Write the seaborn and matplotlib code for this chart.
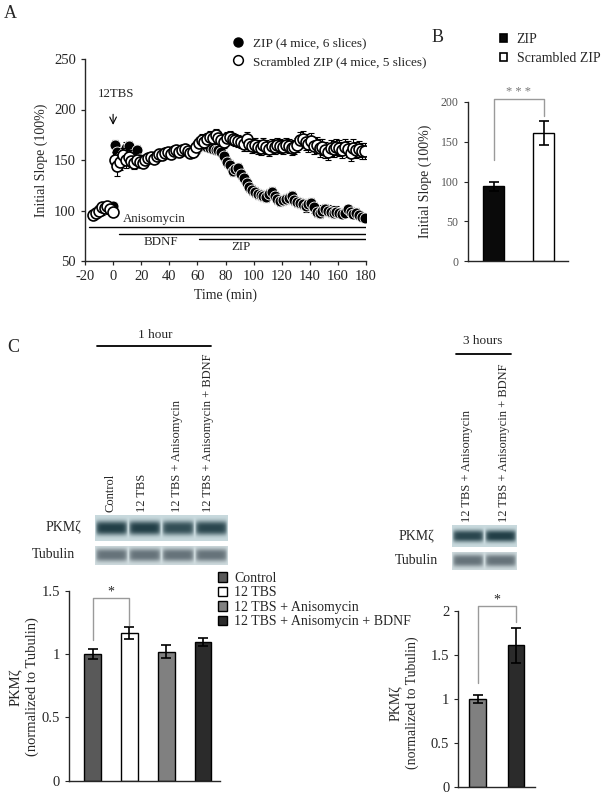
import numpy as np
import pandas as pd
import matplotlib
matplotlib.use("Agg")
import matplotlib.pyplot as plt
from matplotlib.lines import Line2D
from matplotlib.patches import Patch
import seaborn as sns

# ---------------- Panel A: time course ----------------
# recording sampled every 2 min: baseline at -14..0, after 12TBS at 1..179
BASE_T = list(range(-14, 1, 2))
POST_T = list(range(1, 180, 2))

ZIP_BASE = [97, 99, 101, 100, 102, 101, 103, 104]
SCR_BASE = [96, 98, 100, 103, 102, 104, 101, 99]
ZIP_BASE_ERR = [3, 3, 3, 3, 3, 3, 3, 3]
SCR_BASE_ERR = [3, 3, 3, 3, 3, 3, 3, 3]

ZIP_POST = [165, 158, 152, 156, 162, 164, 155, 152, 160, 151,
            149, 150, 152, 153, 152, 154, 155, 157, 158, 157,
            158, 157, 159, 158, 160, 161, 160, 158, 157, 160,
            163, 165, 164, 163, 162, 161, 160, 160, 158, 154,
            148, 145, 139, 141, 142, 136, 132, 127, 123, 120,
            118, 116, 115, 114, 113, 116, 118, 114, 111, 109,
            110, 111, 112, 114, 110, 108, 107, 106, 104, 106,
            107, 103, 99, 98, 100, 101, 100, 99, 98, 99,
            98, 97, 98, 101, 99, 97, 98, 96, 94, 93]
SCR_POST = [150, 144, 148, 155, 150, 153, 149, 147, 150, 148,
            147, 150, 152, 153, 151, 154, 156, 155, 157, 158,
            156, 159, 160, 158, 160, 161, 159, 157, 158, 163,
            167, 170, 168, 171, 173, 172, 175, 172, 170, 168,
            172, 173, 171, 170, 169, 168, 166, 171, 166, 164,
            165, 163, 162, 165, 163, 161, 164, 163, 165, 164,
            163, 165, 164, 162, 163, 165, 170, 171, 168, 166,
            169, 164, 165, 162, 163, 160, 158, 162, 161, 163,
            162, 160, 163, 161, 157, 162, 160, 161, 159, 159]
ZIP_POST_ERR = [5, 6, 6, 5, 6, 5, 5, 4, 5, 4,
                4, 4, 3, 3, 3, 3, 3, 3, 3, 3,
                3, 3, 3, 3, 3, 3, 3, 3, 3, 4,
                4, 4, 4, 4, 4, 4, 4, 4, 4, 5,
                5, 5, 5, 5, 5, 5, 5, 5, 5, 5,
                5, 5, 5, 5, 5, 5, 5, 5, 5, 5,
                5, 5, 5, 5, 5, 5, 5, 5, 5, 5,
                5, 5, 5, 5, 5, 5, 5, 5, 5, 5,
                4, 4, 4, 4, 4, 4, 4, 4, 4, 3]
SCR_POST_ERR = [8, 10, 8, 7, 8, 7, 6, 6, 5, 5,
                5, 5, 4, 4, 4, 5, 5, 5, 5, 5,
                5, 5, 5, 5, 5, 5, 5, 5, 5, 6,
                6, 6, 6, 6, 6, 6, 6, 6, 6, 6,
                6, 6, 6, 6, 6, 6, 7, 7, 7, 7,
                7, 7, 7, 7, 7, 7, 7, 7, 7, 7,
                7, 7, 7, 7, 7, 7, 8, 8, 8, 8,
                8, 8, 8, 9, 8, 8, 8, 8, 8, 8,
                8, 8, 8, 8, 8, 9, 8, 8, 8, 8]

DRUGS = ["Anisomycin", "BDNF", "ZIP"]
DRUG_START = [-17, 4, 61]
DRUG_LEVEL = [84, 77, 72]
A_LEGEND = ["ZIP (4 mice, 6 slices)", "Scrambled ZIP (4 mice, 5 slices)"]

# ---------------- Panel B ----------------
B_GROUPS = ["ZIP", "Scrambled ZIP"]
B_VALUES = [94, 161]
B_ERR = [6, 15]
B_COLORS = ["#0a0a0a", "white"]

# ---------------- Panel C ----------------
C1_GROUPS = ["Control", "12 TBS", "12 TBS + Anisomycin", "12 TBS + Anisomycin + BDNF"]
C1_VALUES = [1.00, 1.165, 1.02, 1.095]
C1_ERR = [0.04, 0.05, 0.055, 0.03]
C1_COLORS = ["#595959", "white", "#808080", "#2b2b2b"]
C1_YTICKS = [0, 0.5, 1, 1.5]
C1_YLABELS = ["0", "0.5", "1", "1.5"]
C1_PKM_BANDS = [1.0, 1.0, 0.9, 0.95]
C1_TUB_BANDS = [1.0, 1.0, 1.0, 1.0]

C2_GROUPS = ["12 TBS + Anisomycin", "12 TBS + Anisomycin + BDNF"]
C2_VALUES = [1.0, 1.61]
C2_ERR = [0.05, 0.2]
C2_COLORS = ["#808080", "#2b2b2b"]
C2_YTICKS = [0, 0.5, 1, 1.5, 2]
C2_YLABELS = ["0", "0.5", "1", "1.5", "2"]
C2_PKM_BANDS = [0.95, 1.0]
C2_TUB_BANDS = [1.0, 1.0]

W, H = 605, 797
SERIF = ["Liberation Serif", "DejaVu Serif"]
BRACKET = "#9a9a9a"

sns.set_style("ticks")
plt.rcParams["font.family"] = SERIF
plt.rcParams["axes.linewidth"] = 1.0
plt.rcParams["axes.unicode_minus"] = False

fig = plt.figure(figsize=(W / 100, H / 100), dpi=100)


def rect(x0, y0, x1, y1):
    return [x0 / W, 1 - y1 / H, (x1 - x0) / W, (y1 - y0) / H]


def ftext(x, y, s, **kw):
    fig.text(x / W, 1 - y / H, s, **kw)


def fline(x0, x1, y, **kw):
    fig.add_artist(Line2D([x0 / W, x1 / W], [1 - y / H, 1 - y / H], transform=fig.transFigure, **kw))


def draw_blot(box, bands, band_col, bg_col, sharp=0.55):
    ax = fig.add_axes(rect(*box))
    yy = np.linspace(-1, 1, 40)[:, None]
    xx = np.linspace(-1, 1, 60)[None, :]
    prof = np.exp(-(np.abs(yy) / sharp) ** 3) * np.clip(1 - np.abs(xx) ** 8, 0, 1)
    img = np.hstack([b * prof for b in bands])
    bg = np.array(matplotlib.colors.to_rgb(bg_col))
    fg = np.array(matplotlib.colors.to_rgb(band_col))
    ax.imshow(bg + img[..., None] * (fg - bg), aspect="auto", interpolation="bilinear")
    ax.axis("off")


def bars(ax, groups, values, errs, colors, width):
    df = pd.DataFrame({"group": groups, "value": values})
    sns.barplot(data=df, x="group", y="value", hue="group", palette=dict(zip(groups, colors)),
                width=width, edgecolor="black", linewidth=1.0, errorbar=None, legend=False, ax=ax)
    ax.errorbar(range(len(values)), values, yerr=errs, fmt="none", ecolor="black",
                elinewidth=1.2, capsize=3.5, capthick=1.2)
    ax.set_xlabel("")
    ax.set_ylabel("")
    ax.tick_params(axis="x", length=0, labelbottom=False)
    sns.despine(ax=ax)


# ===== Panel A =====
axA = fig.add_axes(rect(85, 59, 366, 261))
zip_t = BASE_T + POST_T
zip_v = ZIP_BASE + ZIP_POST
scr_v = SCR_BASE + SCR_POST
axA.errorbar(zip_t, zip_v, yerr=ZIP_BASE_ERR + ZIP_POST_ERR, fmt="none", ecolor="black",
             elinewidth=0.8, capsize=2.5, capthick=0.8, zorder=1)
sns.scatterplot(x=zip_t, y=zip_v, color="black", edgecolor="white", linewidth=0.6,
                s=62, marker="o", ax=axA, zorder=2)
axA.errorbar(zip_t, scr_v, yerr=SCR_BASE_ERR + SCR_POST_ERR, fmt="none", ecolor="black",
             elinewidth=0.8, capsize=2.5, capthick=0.8, zorder=3)
sns.scatterplot(x=zip_t, y=scr_v, color="white", edgecolor="black", linewidth=1.2,
                s=62, marker="o", ax=axA, zorder=4)
for start, lvl in zip(DRUG_START, DRUG_LEVEL):
    axA.plot([start, 180], [lvl, lvl], color="black", lw=1.0, zorder=1)
axA.text(29, 92, DRUGS[0], ha="center", va="center", fontsize=9.3)
axA.text(34, 69, DRUGS[1], ha="center", va="center", fontsize=9.3)
axA.text(91, 64, DRUGS[2], ha="center", va="center", fontsize=9.3)
axA.text(2, 215, "12TBS", ha="center", va="center", fontsize=9.3)
axA.annotate("", xy=(0, 182), xytext=(0, 198),
             arrowprops=dict(arrowstyle="->", lw=0.8, color="black", mutation_scale=12))
axA.set_xlim(-20, 180)
axA.set_ylim(50, 250)
axA.set_xticks(range(-20, 181, 20))
axA.set_yticks(range(50, 251, 50))
axA.tick_params(labelsize=10.5, length=3, width=0.9)
axA.set_xlabel("Time (min)", fontsize=10, labelpad=4)
axA.set_ylabel("Initial Slope (100%)", fontsize=10, labelpad=4)
sns.despine(ax=axA)
handlesA = [Line2D([], [], marker="o", ls="none", mfc="black", mec="black", ms=6.5),
            Line2D([], [], marker="o", ls="none", mfc="white", mec="black", mew=1.1, ms=7)]
fig.legend(handlesA, A_LEGEND, loc="upper left", bbox_to_anchor=(231 / W, 1 - 37 / H),
           frameon=False, fontsize=9.5, handlelength=1.0, handletextpad=0.7,
           labelspacing=0.5, borderpad=0, borderaxespad=0)

# ===== Panel B =====
axB = fig.add_axes(rect(467.7, 102, 568, 261))
bars(axB, B_GROUPS, B_VALUES, B_ERR, B_COLORS, 0.42)
axB.set_xlim(-0.516, 1.49)
axB.set_ylim(0, 200)
axB.set_yticks(range(0, 201, 50))
axB.tick_params(axis="y", labelsize=8.5, labelcolor="#555555", length=3)
axB.set_ylabel("Initial Slope (100%)", fontsize=10, labelpad=6)
axB.plot([0, 0, 1, 1], [127, 204, 204, 183], color=BRACKET, lw=1.0, clip_on=False)
axB.text(0.5, 212, "* * *", ha="center", va="center", fontsize=9, color="#777777")
handlesB = [Patch(facecolor=c, edgecolor="black", lw=1.2) for c in B_COLORS]
fig.legend(handlesB, B_GROUPS, loc="upper left", bbox_to_anchor=(500 / W, 1 - 33 / H),
           frameon=False, fontsize=10, handlelength=0.5, handleheight=0.5,
           handletextpad=0.7, labelspacing=0.45, borderpad=0, borderaxespad=0)

# ===== Panel C, 1 hour =====
ftext(155, 335, "1 hour", ha="center", va="center", fontsize=9.5)
fline(97, 211, 346, color="black", lw=1.3)
for x, lab in zip([110, 142, 177, 208], C1_GROUPS):
    ftext(x, 512, lab, rotation=90, ha="center", va="bottom", fontsize=9)
draw_blot((95, 515, 228, 541), C1_PKM_BANDS, "#223f47", "#c9dade")
draw_blot((95, 546, 228, 565), C1_TUB_BANDS, "#66737a", "#d0dcdf", sharp=0.65)
ftext(63, 528, "PKMζ", ha="center", va="center", fontsize=10)
ftext(53, 555, "Tubulin", ha="center", va="center", fontsize=10)

axC1 = fig.add_axes(rect(69, 590.7, 220, 780.7))
bars(axC1, C1_GROUPS, C1_VALUES, C1_ERR, C1_COLORS, 0.45)
axC1.set_xlim(-0.64, 3.46)
axC1.set_ylim(0, 1.5)
axC1.set_yticks(C1_YTICKS)
axC1.set_yticklabels(C1_YLABELS)
axC1.tick_params(axis="y", labelsize=10.5, length=3)
axC1.plot([0, 0, 1, 1], [1.11, 1.44, 1.44, 1.23], color=BRACKET, lw=1.0, clip_on=False)
axC1.text(0.5, 1.49, "*", ha="center", va="center", fontsize=10)
ftext(24, 687, "PKMζ\n(normalized to Tubulin)", rotation=90, ha="center", va="center",
      fontsize=10.5, linespacing=1.25)
handlesC = [Patch(facecolor=c, edgecolor="black", lw=1.0) for c in C1_COLORS]
fig.legend(handlesC, C1_GROUPS, loc="upper left", bbox_to_anchor=(218 / W, 1 - 572 / H),
           frameon=False, fontsize=10, handlelength=0.65, handleheight=0.65,
           handletextpad=0.5, labelspacing=0.1, borderpad=0, borderaxespad=0)

# ===== Panel C, 3 hours =====
ftext(483, 341, "3 hours", ha="center", va="center", fontsize=9.5)
fline(456, 511, 354, color="black", lw=1.3)
for x, lab in zip([467, 504], C2_GROUPS):
    ftext(x, 521.7, lab, rotation=90, ha="center", va="bottom", fontsize=9)
draw_blot((452, 525, 517, 547), C2_PKM_BANDS, "#223f47", "#c9dade")
draw_blot((452, 552, 517, 570), C2_TUB_BANDS, "#66737a", "#d0dcdf", sharp=0.65)
ftext(416, 537, "PKMζ", ha="center", va="center", fontsize=10)
ftext(416, 561, "Tubulin", ha="center", va="center", fontsize=10)

axC2 = fig.add_axes(rect(458.3, 611, 535, 787))
bars(axC2, C2_GROUPS, C2_VALUES, C2_ERR, C2_COLORS, 0.43)
axC2.set_xlim(-0.506, 1.496)
axC2.set_ylim(0, 2)
axC2.set_yticks(C2_YTICKS)
axC2.set_yticklabels(C2_YLABELS)
axC2.tick_params(axis="y", labelsize=10.5, length=3)
axC2.plot([0, 0, 1, 1], [1.18, 2.06, 2.06, 1.88], color=BRACKET, lw=1.0, clip_on=False)
axC2.text(0.5, 2.12, "*", ha="center", va="center", fontsize=10)
ftext(404, 703, "PKMζ\n(normalized to Tubulin)", rotation=90, ha="center", va="center",
      fontsize=10, linespacing=1.25)

# panel letters
ftext(10, 14, "A", ha="center", va="center", fontsize=13)
ftext(438, 37, "B", ha="center", va="center", fontsize=13)
ftext(13, 347, "C", ha="center", va="center", fontsize=13)

fig.savefig("out.png", dpi=100)
